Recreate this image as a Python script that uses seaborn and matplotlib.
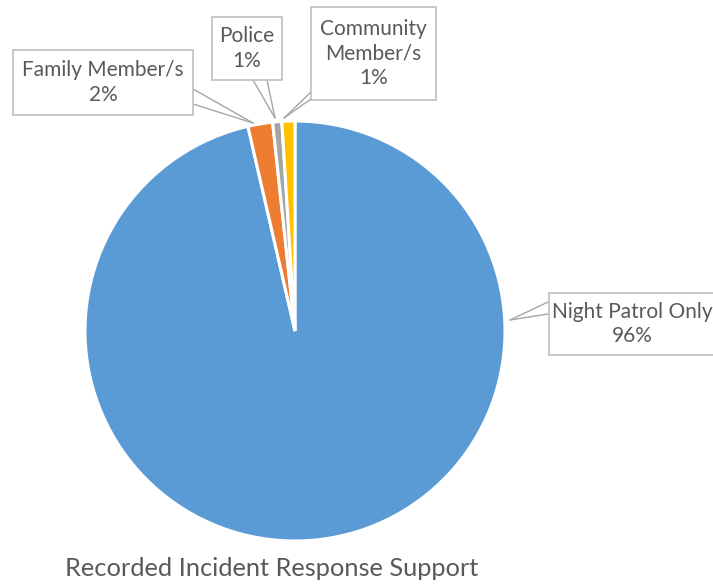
import matplotlib
matplotlib.use("Agg")
import matplotlib.pyplot as plt
import seaborn as sns
from matplotlib.patches import Rectangle

sns.set_theme(style="white")
plt.rcParams['font.family'] = ['Lato', 'DejaVu Sans']

categories = ["Night Patrol Only", "Family Member/s", "Police", "Community\nMember/s"]
values = [96.4, 1.9, 0.7, 1.0]
colors = ["#5B9BD5", "#ED7D31", "#A5A5A5", "#FFC000"]
title = "Recorded Incident Response Support"

W, H = 713, 586
fig = plt.figure(figsize=(W / 100, H / 100), dpi=100)
ax = fig.add_axes([0, 0, 1, 1])

def py(y):
    return H - y

ax.pie(values, colors=colors, startangle=90, counterclock=False,
       center=(295, py(331)), radius=210, frame=True,
       wedgeprops=dict(edgecolor='white', linewidth=2.2))
ax.set_xlim(0, W)
ax.set_ylim(0, H)
ax.set_aspect('equal')
ax.axis('off')

total = sum(values)
pcts = [f"{round(v / total * 100):.0f}%" for v in values]

text_color = "#595959"
box_edge = "#BFBFBF"
line_color = "#A6A6A6"

boxes = [
    ((549, 293, 730, 355), [((548, 302), (510, 320)), ((548, 314), (510, 320))]),
    ((13, 50, 193, 115), [((193, 89), (253, 123)), ((193, 104), (253, 123))]),
    ((212, 17, 282, 80), [((253, 80), (275, 118)), ((267, 80), (275, 118))]),
    ((311, 7, 436, 100), [((311, 92), (284, 118)), ((311, 99), (284, 118))]),
]

for (box, lines), cat, pct in zip(boxes, categories, pcts):
    x0, y0, x1, y1 = box
    ax.add_patch(Rectangle((x0, py(y1)), x1 - x0, y1 - y0, facecolor='white',
                           edgecolor=box_edge, linewidth=1.2, zorder=5))
    for (a, b) in lines:
        ax.plot([a[0], b[0]], [py(a[1]), py(b[1])], color=line_color, lw=1.0, zorder=4)
    cx = (x0 + x1) / 2 if x1 <= W else 632
    ax.text(cx, py((y0 + y1) / 2), f"{cat}\n{pct}", ha='center', va='center',
            fontsize=15, color=text_color, zorder=6, linespacing=1.3)

ax.text(272, py(568), title, ha='center', va='center', fontsize=18.3, color=text_color)

fig.savefig("out.png", dpi=100)
